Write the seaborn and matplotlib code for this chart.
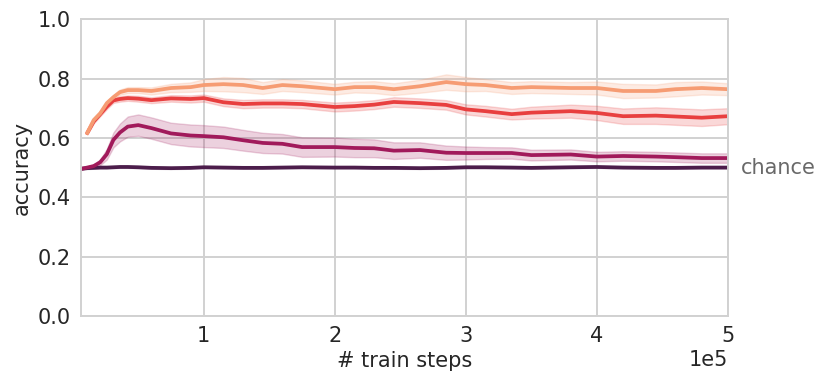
import numpy as np
import pandas as pd
import seaborn as sns
import matplotlib
matplotlib.use("Agg")
import matplotlib.pyplot as plt

# train steps, in units of 1e5
steps = [0.06, 0.11, 0.16, 0.21, 0.26, 0.31, 0.36, 0.42, 0.5, 0.6, 0.75, 0.9,
         1.0, 1.15, 1.3, 1.45, 1.6, 1.75, 2.0, 2.15, 2.3, 2.45, 2.65, 2.85,
         3.0, 3.15, 3.35, 3.5, 3.8, 4.0, 4.2, 4.45, 4.6, 4.8, 5.0]

# mean accuracy and half-width of the shaded band, per run
dark_mean = [0.496, 0.498, 0.499, 0.5, 0.5, 0.501, 0.502, 0.502, 0.501, 0.499, 0.498, 0.499,
             0.501, 0.5, 0.499, 0.499, 0.5, 0.501, 0.5, 0.5, 0.499, 0.499, 0.498, 0.499,
             0.501, 0.501, 0.5, 0.499, 0.501, 0.502, 0.5, 0.499, 0.499, 0.5, 0.5]
dark_band = [0.003] * 35

magenta_mean = [0.495, 0.5, 0.505, 0.518, 0.545, 0.593, 0.618, 0.638, 0.643, 0.633, 0.615, 0.608,
                0.606, 0.602, 0.592, 0.583, 0.58, 0.569, 0.569, 0.566, 0.565, 0.557, 0.559, 0.55,
                0.549, 0.549, 0.549, 0.542, 0.544, 0.537, 0.539, 0.537, 0.535, 0.532, 0.532]
magenta_band = [0.002, 0.004, 0.006, 0.01, 0.018, 0.025, 0.03, 0.034, 0.036, 0.036, 0.036, 0.037,
                0.037, 0.036, 0.035, 0.034, 0.033, 0.033, 0.032, 0.031, 0.03, 0.028, 0.026, 0.024,
                0.022, 0.02, 0.019, 0.018, 0.017, 0.016, 0.016, 0.016, 0.016, 0.016, 0.016]

# red and orange runs start one logging step later
red_mean = [0.616, 0.655, 0.68, 0.705, 0.726, 0.731, 0.734, 0.732, 0.727, 0.733, 0.731,
            0.734, 0.72, 0.714, 0.716, 0.716, 0.714, 0.704, 0.707, 0.712, 0.721, 0.717, 0.711,
            0.696, 0.69, 0.68, 0.685, 0.69, 0.684, 0.673, 0.675, 0.672, 0.668, 0.673]
red_band = [0.005, 0.006, 0.007, 0.008, 0.008, 0.009, 0.009, 0.01, 0.01, 0.011, 0.012,
            0.012, 0.013, 0.014, 0.014, 0.014, 0.014, 0.015, 0.015, 0.015, 0.016, 0.016, 0.016,
            0.017, 0.018, 0.018, 0.02, 0.022, 0.024, 0.026, 0.028, 0.028, 0.028, 0.027]

orange_mean = [0.616, 0.66, 0.683, 0.717, 0.737, 0.754, 0.761, 0.761, 0.758, 0.768, 0.771,
               0.778, 0.781, 0.778, 0.768, 0.778, 0.774, 0.764, 0.771, 0.771, 0.764, 0.774, 0.788,
               0.781, 0.778, 0.768, 0.771, 0.768, 0.768, 0.758, 0.758, 0.764, 0.768, 0.764]
orange_band = [0.005, 0.006, 0.007, 0.008, 0.008, 0.009, 0.01, 0.01, 0.012, 0.014, 0.016,
               0.02, 0.024, 0.024, 0.02, 0.02, 0.02, 0.018, 0.018, 0.02, 0.02, 0.022, 0.026,
               0.024, 0.02, 0.02, 0.02, 0.02, 0.022, 0.024, 0.022, 0.024, 0.022, 0.02]

sns.set_style("whitegrid", {"grid.color": "0.82", "axes.edgecolor": "0.82"})
plt.rcParams["font.family"] = ["DejaVu Sans"]

colors = sns.color_palette("rocket", 4)
runs = [("dark", steps, dark_mean, dark_band),
        ("magenta", steps, magenta_mean, magenta_band),
        ("red", steps[1:], red_mean, red_band),
        ("orange", steps[1:], orange_mean, orange_band)]

frames = []
for name, x, m, b in runs:
    frames.append(pd.DataFrame({"step": np.array(x) * 1e5, "acc": m, "run": name}))
df = pd.concat(frames)

fig, ax = plt.subplots(figsize=(8.31, 3.83), dpi=100)
fig.subplots_adjust(left=0.097, right=0.876, bottom=0.175, top=0.95)

for (name, x, m, b), c in zip(runs, colors):
    x = np.array(x) * 1e5
    m = np.array(m)
    b = np.array(b)
    ax.fill_between(x, m - b, m + b, color=c, alpha=0.2, lw=1)

sns.lineplot(data=df, x="step", y="acc", hue="run", palette=colors,
             linewidth=2.7, legend=False, errorbar=None, ax=ax)

ax.set_xlim(6000, 500000)
ax.set_ylim(0, 1)
ax.set_xticks([1e5, 2e5, 3e5, 4e5, 5e5])
ax.set_yticks([0, 0.2, 0.4, 0.6, 0.8, 1.0])
ax.ticklabel_format(style="sci", axis="x", scilimits=(0, 0))
ax.xaxis.get_offset_text().set_fontsize(15)
ax.tick_params(labelsize=15)
ax.grid(linewidth=1.4)
ax.set_xlabel("# train steps", fontsize=15)
ax.set_ylabel("accuracy", fontsize=15)
for s in ax.spines.values():
    s.set_linewidth(1.4)

ax.text(1.02, 0.5, "chance", transform=ax.get_yaxis_transform(),
        fontsize=15, color="dimgray", va="center", ha="left")

fig.savefig("out.png", dpi=100)
